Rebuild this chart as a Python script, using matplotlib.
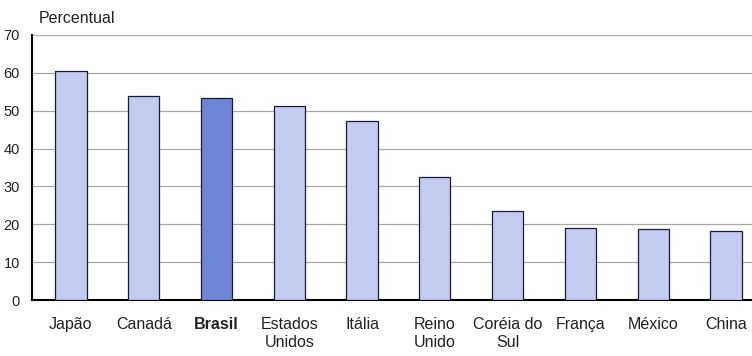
import matplotlib
matplotlib.use("Agg")
import matplotlib.pyplot as plt

paises = ["Japão", "Canadá", "Brasil", "Estados\nUnidos", "Itália",
          "Reino\nUnido", "Coréia do\nSul", "França", "México", "China"]
percentual = [60.4, 53.8, 53.4, 51.2, 47.4, 32.4, 23.6, 19.0, 18.8, 18.3]
destaque = "Brasil"
yticks = [0, 10, 20, 30, 40, 50, 60, 70]

plt.rcParams["font.family"] = ["Liberation Sans", "DejaVu Sans"]

fig = plt.figure(figsize=(7.52, 3.56), dpi=100)
ax = fig.add_axes([0.043, 0.157, 0.965, 0.745])

cores = ["#6f86d6" if p == destaque else "#c3cbf1" for p in paises]
ax.bar(range(len(paises)), percentual, width=0.43, color=cores,
       edgecolor="#1a1a3a", linewidth=0.9, zorder=3)

ax.set_ylim(0, 70)
ax.set_xlim(-0.53, 9.44)
ax.set_yticks(yticks)
ax.yaxis.grid(True, color="#a8a8a8", linewidth=0.9, zorder=0)
ax.set_axisbelow(True)

ax.set_xticks(range(len(paises)))
ax.set_xticklabels(paises, fontsize=11.5, color="#222222", linespacing=1.3)
for lbl in ax.get_xticklabels():
    if lbl.get_text() == destaque:
        lbl.set_fontweight("bold")
ax.tick_params(axis="x", length=0, pad=12)
ax.tick_params(axis="y", length=0, pad=9, labelsize=10.5, labelcolor="#222222")

for s in ["top", "right"]:
    ax.spines[s].set_visible(False)
ax.spines["left"].set_linewidth(1.5)
ax.spines["bottom"].set_linewidth(1.5)

fig.text(0.051, 0.935, "Percentual", fontsize=11.5, color="#222222")

fig.savefig("out.png", dpi=100, facecolor="white")
